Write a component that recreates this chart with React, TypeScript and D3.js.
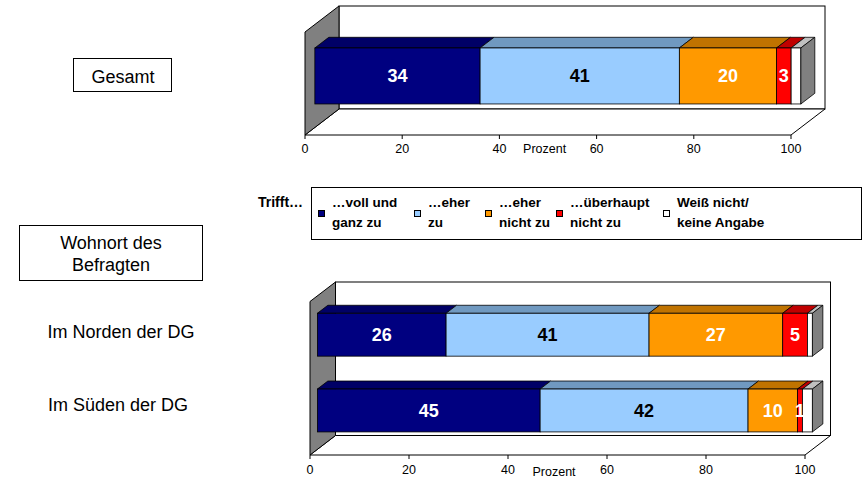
import { useEffect, useRef } from "react";
import * as d3 from "d3";

// answer categories (legend order = stacking order)
const categories = ["…voll und ganz zu", "…eher zu", "…eher nicht zu", "…überhaupt nicht zu", "Weiß nicht/keine Angabe"];
const legendLines = [
  ["…voll und", "ganz zu"],
  ["…eher", "zu"],
  ["…eher", "nicht zu"],
  ["…überhaupt", "nicht zu"],
  ["Weiß nicht/", "keine Angabe"],
];
const gesamtValues = [34, 41, 20, 3, 2];
const rowLabels = ["Im Norden der DG", "Im Süden der DG"];
const nordValues = [26, 41, 27, 5, 1];
const suedValues = [45, 42, 10, 1, 2];
const xTicks = [0, 20, 40, 60, 80, 100];

const frontColors = ["#000080", "#99CCFF", "#FF9900", "#FF0000", "#FFFFFF"];
const topColors = ["#000066", "#7099C0", "#C07300", "#C00000", "#C0C0C0"];
const labelColors = ["#fff", "#000", "#fff", "#fff", "#000"];

const FONT = "'Liberation Sans', Arial, sans-serif";

interface Panel {
  x0: number;
  x1: number;
  floor: number;
  top: number;
  dx: number;
  dy: number;
  rows: string[];
  values: number[][];
  padInner: number;
  padOuter: number;
  labelY: number;
  axisLabelY: number;
}

function drawPanel(svg: d3.Selection<SVGSVGElement, unknown, null, undefined>, p: Panel) {
  const g = svg.append("g");
  const x = d3.scaleLinear().domain([0, 100]).range([p.x0, p.x1]);
  const gap = 0.29;
  const depth = 0.41;

  // back wall
  g.append("rect")
    .attr("x", p.x0 + p.dx)
    .attr("y", p.top + p.dy)
    .attr("width", p.x1 - p.x0)
    .attr("height", p.floor - p.top)
    .attr("fill", "#fff")
    .attr("stroke", "#000");

  // floor
  g.append("polygon")
    .attr(
      "points",
      [
        [p.x0, p.floor],
        [p.x1, p.floor],
        [p.x1 + p.dx, p.floor + p.dy],
        [p.x0 + p.dx, p.floor + p.dy],
      ].join(" ")
    )
    .attr("fill", "#fff")
    .attr("stroke", "#000");

  // left side wall
  g.append("polygon")
    .attr(
      "points",
      [
        [p.x0, p.top],
        [p.x0 + p.dx, p.top + p.dy],
        [p.x0 + p.dx, p.floor + p.dy],
        [p.x0, p.floor],
      ].join(" ")
    )
    .attr("fill", "#808080")
    .attr("stroke", "#000");

  // ticks + labels
  xTicks.forEach((t) => {
    g.append("line")
      .attr("x1", x(t))
      .attr("x2", x(t))
      .attr("y1", p.floor)
      .attr("y2", p.floor + 4)
      .attr("stroke", "#000");
    g.append("text")
      .attr("x", x(t))
      .attr("y", p.labelY)
      .attr("text-anchor", "middle")
      .attr("font-size", 12.5)
      .attr("font-family", FONT)
      .text(t);
  });
  g.append("text")
    .attr("x", x(49.3))
    .attr("y", p.axisLabelY)
    .attr("text-anchor", "middle")
    .attr("font-size", 12.5)
    .attr("font-family", FONT)
    .text("Prozent");

  // bars
  const ox = gap * p.dx;
  const oy = gap * p.dy;
  const bx = depth * p.dx;
  const by = depth * p.dy;
  const y = d3
    .scaleBand<string>()
    .domain(p.rows)
    .range([p.top + oy, p.floor + oy])
    .paddingInner(p.padInner)
    .paddingOuter(p.padOuter);

  p.rows.forEach((row, ri) => {
    const vals = p.values[ri];
    const stack = d3.cumsum(vals);
    const y0 = y(row) ?? 0;
    const bh = y.bandwidth();
    vals.forEach((v, i) => {
      const a = x(stack[i] - v) + ox;
      const b = x(stack[i]) + ox;
      // top face
      g.append("polygon")
        .attr(
          "points",
          [
            [a, y0],
            [b, y0],
            [b + bx, y0 + by],
            [a + bx, y0 + by],
          ].join(" ")
        )
        .attr("fill", topColors[i])
        .attr("stroke", "#000")
        .attr("stroke-width", 0.8);
      g.append("rect")
        .attr("x", a)
        .attr("y", y0)
        .attr("width", b - a)
        .attr("height", bh)
        .attr("fill", frontColors[i])
        .attr("stroke", "#000")
        .attr("stroke-width", 0.8);
      if (i === vals.length - 1) {
        g.append("polygon")
          .attr(
            "points",
            [
              [b, y0],
              [b + bx, y0 + by],
              [b + bx, y0 + by + bh],
              [b, y0 + bh],
            ].join(" ")
          )
          .attr("fill", "#808080")
          .attr("stroke", "#000")
          .attr("stroke-width", 0.8);
      }
    });
    vals.forEach((v, i) => {
      if (i === vals.length - 1) return;
      const a = x(stack[i] - v) + ox;
      const b = x(stack[i]) + ox;
      g.append("text")
        .attr("x", (a + b) / 2)
        .attr("y", y0 + bh / 2 + 6.5)
        .attr("text-anchor", "middle")
        .attr("font-size", 18)
        .attr("font-weight", "bold")
        .attr("font-family", FONT)
        .attr("fill", labelColors[i])
        .text(v);
    });
  });
}

export default function App() {
  const ref = useRef<SVGSVGElement | null>(null);

  useEffect(() => {
    const svg = d3.select(ref.current as SVGSVGElement);
    svg.selectAll("*").remove();

    drawPanel(svg, {
      x0: 305,
      x1: 791,
      floor: 135,
      top: 32,
      dx: 34,
      dy: -26,
      rows: ["Gesamt"],
      values: [gesamtValues],
      padInner: 0.2956,
      padOuter: 0.2956,
      labelY: 153,
      axisLabelY: 153,
    });

    drawPanel(svg, {
      x0: 310,
      x1: 805,
      floor: 455,
      top: 301.5,
      dx: 25.5,
      dy: -19.5,
      rows: rowLabels,
      values: [nordValues, suedValues],
      padInner: 0.434,
      padOuter: 0.23,
      labelY: 474,
      axisLabelY: 476,
    });

    // legend
    const lg = svg.append("g");
    lg.append("text")
      .attr("x", 258)
      .attr("y", 207)
      .attr("font-size", 14)
      .attr("font-weight", "bold")
      .attr("font-family", FONT)
      .text("Trifft…");
    lg.append("rect")
      .attr("x", 311.5)
      .attr("y", 187.5)
      .attr("width", 550)
      .attr("height", 52)
      .attr("fill", "#fff")
      .attr("stroke", "#000");
    const sqX = [318, 414, 485, 556, 663];
    categories.forEach((c, i) => {
      lg.append("rect")
        .attr("x", sqX[i] + 0.5)
        .attr("y", 210.5)
        .attr("width", 6)
        .attr("height", 6)
        .attr("fill", frontColors[i])
        .attr("stroke", "#000");
      const t = lg
        .append("text")
        .attr("font-size", 13.5)
        .attr("font-weight", "bold")
        .attr("font-family", FONT);
      legendLines[i].forEach((ln, li) => {
        t.append("tspan")
          .attr("x", sqX[i] + 14)
          .attr("y", 207 + li * 20)
          .text(ln);
      });
      t.append("title").text(c);
    });

    // left labels
    const left = svg.append("g").attr("font-family", FONT).attr("font-size", 18);
    left.append("rect")
      .attr("x", 73.5)
      .attr("y", 58.5)
      .attr("width", 98)
      .attr("height", 33)
      .attr("fill", "#fff")
      .attr("stroke", "#000");
    left.append("text").attr("x", 123).attr("y", 83).attr("text-anchor", "middle").text("Gesamt");
    left.append("rect")
      .attr("x", 19.5)
      .attr("y", 225.5)
      .attr("width", 183)
      .attr("height", 55)
      .attr("fill", "#fff")
      .attr("stroke", "#000");
    left.append("text").attr("x", 111).attr("y", 249).attr("text-anchor", "middle").text("Wohnort des");
    left.append("text").attr("x", 111).attr("y", 271).attr("text-anchor", "middle").text("Befragten");
    left.append("text").attr("x", 121).attr("y", 338).attr("text-anchor", "middle").text(rowLabels[0]);
    left.append("text").attr("x", 118).attr("y", 411).attr("text-anchor", "middle").text(rowLabels[1]);
  }, []);

  return (
    <svg
      ref={ref}
      width={864}
      height={481}
      style={{ position: "absolute", left: 0, top: 0, background: "#fff" }}
    />
  );
}
